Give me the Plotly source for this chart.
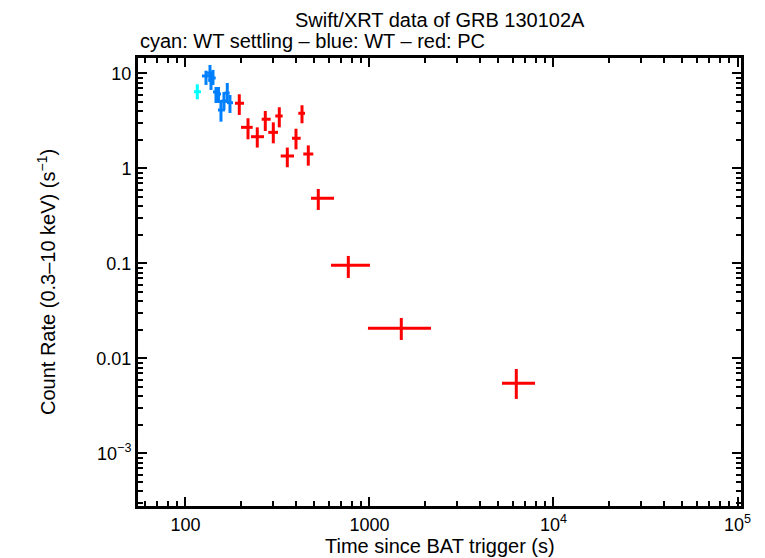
import plotly.graph_objects as go

# WT settling (cyan)
wts_t = [115.9]
wts_tlo = [111.2]
wts_thi = [121.4]
wts_rate = [6.43]
wts_lo = [5.35]
wts_hi = [7.69]

# WT (blue)
wt_t = [129.3, 135.9, 137.6, 141.1, 146.5, 151.1, 155.9, 161.9, 168.7, 174.5]
wt_tlo = [122.9, 131.0, 133.0, 136.0, 141.1, 146.5, 150.2, 156.5, 163.0, 168.1]
wt_thi = [135.9, 141.0, 142.5, 146.0, 152.1, 156.0, 163.9, 167.0, 174.0, 181.2]
wt_rate = [9.41, 10.1, 8.54, 8.97, 6.39, 6.08, 4.13, 5.13, 6.23, 4.93]
wt_lo = [7.57, 8.14, 6.71, 7.57, 4.89, 4.89, 3.11, 4.13, 4.89, 3.84]
wt_hi = [10.7, 12.3, 10.4, 10.9, 7.21, 7.21, 5.26, 6.39, 7.94, 5.94]

# PC (red)
pc_t = [196.1, 218.7, 245.6, 271.5, 300.1, 323.5, 357.6, 398.6, 429.8, 465.0,
        526.9, 767.2, 1489, 6279]
pc_tlo = [185.8, 200.3, 227.0, 259.5, 281.8, 307.6, 329.2, 379.2, 410.3, 436.8,
          481.0, 617.8, 981, 5250]
pc_thi = [208.0, 231.9, 267.1, 290.4, 318.3, 337.5, 388.8, 422.8, 446.2, 495.0,
          641.4, 1006, 2159, 7934]
pc_rate = [4.86, 2.71, 2.16, 3.30, 2.40, 3.57, 1.354, 2.08, 3.81, 1.42,
           0.486, 0.0957, 0.0208, 0.00548]
pc_lo = [3.66, 2.03, 1.66, 2.48, 1.84, 2.71, 1.03, 1.59, 2.99, 1.07,
         0.366, 0.0704, 0.01566, 0.00375]
pc_hi = [6.04, 3.38, 2.71, 4.03, 3.06, 4.41, 1.66, 2.62, 4.63, 1.75,
         0.608, 0.120, 0.0267, 0.00775]

x_ticks = [100, 1000, 1e4, 1e5]
x_labels = ["100", "1000", "10<sup>4</sup>", "10<sup>5</sup>"]
y_ticks = [1e-3, 0.01, 0.1, 1, 10]
y_labels = ["10<sup>\u22123</sup>", "0.01", "0.1", "1", "10"]


def series(t, tlo, thi, r, lo, hi, color):
    return go.Scatter(
        x=t, y=r, mode="markers",
        marker=dict(size=1, color=color, opacity=0),
        error_x=dict(type="data", symmetric=False,
                     array=[b - a for a, b in zip(t, thi)],
                     arrayminus=[a - b for a, b in zip(t, tlo)],
                     color=color, thickness=3, width=0),
        error_y=dict(type="data", symmetric=False,
                     array=[b - a for a, b in zip(r, hi)],
                     arrayminus=[a - b for a, b in zip(r, lo)],
                     color=color, thickness=3, width=0),
        showlegend=False,
    )


fig = go.Figure()
fig.add_trace(series(wts_t, wts_tlo, wts_thi, wts_rate, wts_lo, wts_hi, "#00ffff"))
fig.add_trace(series(wt_t, wt_tlo, wt_thi, wt_rate, wt_lo, wt_hi, "#0080ff"))
fig.add_trace(series(pc_t, pc_tlo, pc_thi, pc_rate, pc_lo, pc_hi, "#ff0000"))

minor_x = [m * 10 ** e for e in range(1, 6) for m in range(2, 10)]
minor_y = [m * 10 ** e for e in range(-4, 2) for m in range(2, 10)]

axis_style = dict(
    type="log", showline=True, linewidth=3, linecolor="black", mirror="allticks",
    ticks="inside", ticklen=9, tickwidth=2, tickcolor="black",
    showgrid=False, zeroline=False, automargin=False,
    tickfont=dict(size=18, color="black"),
)

fig.update_xaxes(
    **axis_style, range=[1.742, 5.019],
    tickvals=x_ticks, ticktext=x_labels,
    minor=dict(tickvals=minor_x, ticks="inside", ticklen=5, tickwidth=2, tickcolor="black"),
)
fig.update_yaxes(
    **axis_style, range=[-3.553, 1.163],
    tickvals=y_ticks, ticktext=y_labels,
    minor=dict(tickvals=minor_y, ticks="inside", ticklen=5, tickwidth=2, tickcolor="black"),
)

# page body adds an 8px margin, so the figure is shrunk to fit the window
fig.update_layout(
    width=757, height=550,
    margin=dict(l=130, r=24, t=50, b=52),
    plot_bgcolor="white", paper_bgcolor="white",
    font=dict(family="Liberation Sans, Arial, sans-serif", color="black"),
    annotations=[
        dict(text="Swift/XRT data of GRB 130102A", xref="paper", yref="paper",
             x=0.5, y=1.0, yshift=38, xanchor="center", yanchor="middle",
             showarrow=False, font=dict(size=20)),
        dict(text="cyan: WT settling \u2013 blue: WT \u2013 red: PC", xref="paper", yref="paper",
             x=0.0, y=1.0, yshift=17, xanchor="left", yanchor="middle",
             showarrow=False, font=dict(size=20)),
        dict(text="Time since BAT trigger (s)", xref="paper", yref="paper",
             x=0.5, y=0.0, yshift=-40, xanchor="center", yanchor="middle",
             showarrow=False, font=dict(size=20)),
        dict(text="Count Rate (0.3\u201310 keV) (s<sup>\u22121</sup>)", xref="paper", yref="paper",
             x=0.0, y=0.5, xshift=-92, xanchor="center", yanchor="middle", textangle=-90,
             showarrow=False, font=dict(size=20)),
    ],
)

fig.write_html("out.html")
